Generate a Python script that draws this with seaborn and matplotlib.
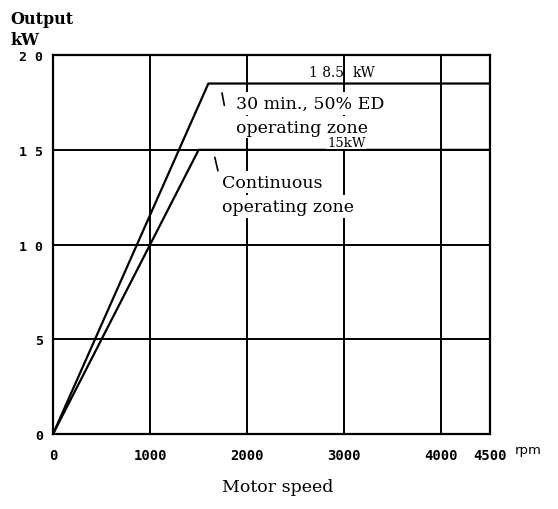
import matplotlib
matplotlib.use("Agg")
import matplotlib.pyplot as plt
import seaborn as sns
import pandas as pd

# Data
speed_30min = [0, 1600, 4500]
output_30min = [0, 18.5, 18.5]
speed_cont = [0, 1500, 4500]
output_cont = [0, 15, 15]
x_ticks = [0, 1000, 2000, 3000, 4000, 4500]
x_tick_labels = ["0", "1000", "2000", "3000", "4000", "4500"]
y_ticks = [0, 5, 10, 15, 20]
y_tick_labels = ["0", "5", "1 0", "1 5", "2 0"]

df = pd.concat([
    pd.DataFrame({"speed": speed_30min, "output": output_30min, "zone": "30min"}),
    pd.DataFrame({"speed": speed_cont, "output": output_cont, "zone": "cont"}),
])

sns.set_style("white")
plt.rcParams["font.family"] = ["DejaVu Serif", "Liberation Serif"]
plt.rcParams["text.color"] = "black"
plt.rcParams["xtick.color"] = "black"
plt.rcParams["ytick.color"] = "black"

fig = plt.figure(figsize=(5.58, 5.10), dpi=100)
ax = fig.add_axes([0.095, 0.147, 0.783, 0.743])

ax.set_xlim(0, 4500)
ax.set_ylim(0, 20)
ax.set_xticks(x_ticks)
ax.set_xticklabels(x_tick_labels, fontsize=10, fontweight="bold", family="DejaVu Sans Mono")
ax.set_yticks(y_ticks)
ax.set_yticklabels(y_tick_labels, fontsize=9.5, fontweight="bold", family="DejaVu Sans Mono")
ax.tick_params(axis="x", length=0, pad=10, labelcolor="black")
ax.tick_params(axis="y", length=0, pad=7, labelcolor="black")
ax.grid(True, color="black", linewidth=1.4)
ax.set_axisbelow(True)
for s in ax.spines.values():
    s.set_color("black")
    s.set_linewidth(1.6)

sns.lineplot(data=df, x="speed", y="output", units="zone", estimator=None,
             color="black", linewidth=1.6, ax=ax, sort=False, legend=False)
ax.set_xlabel("")
ax.set_ylabel("")

box = dict(facecolor="white", edgecolor="none", pad=2.0)
ax.text(1880, 17.45, "30 min., 50% ED", fontsize=12.5, va="center", ha="left", bbox=box, zorder=5)
ax.text(1885, 16.2, "operating zone", fontsize=12.5, va="center", ha="left", bbox=box, zorder=5)
ax.text(3220, 15.4, "15kW", fontsize=9.5, va="center", ha="right", zorder=5,
        bbox=dict(facecolor="white", edgecolor="none", pad=0.5))
ax.text(1745, 13.3, "Continuous", fontsize=12.5, va="center", ha="left", bbox=box, zorder=5)
ax.text(1745, 12.0, "operating zone", fontsize=12.5, va="center", ha="left", bbox=box, zorder=5)
ax.text(3000, 19.1, "1 8.5", fontsize=10, va="center", ha="right", zorder=5)
ax.text(3085, 19.1, "kW", fontsize=10, va="center", ha="left", zorder=5)

ax.annotate("", xy=(1735, 18.15), xytext=(1770, 17.2),
            arrowprops=dict(arrowstyle="-", color="black", lw=1.2))
ax.annotate("", xy=(1660, 14.75), xytext=(1705, 13.75),
            arrowprops=dict(arrowstyle="-", color="black", lw=1.2))

fig.text(0.018, 0.978, "Output", fontsize=11.5, fontweight="bold", va="top", ha="left")
fig.text(0.018, 0.938, "kW", fontsize=11.5, fontweight="bold", va="top", ha="left")
fig.text(0.922, 0.117, "rpm", fontsize=9.5, family="DejaVu Sans", va="center", ha="left")
fig.text(0.498, 0.045, "Motor speed", fontsize=12.5, va="center", ha="center")

fig.savefig("out.png", dpi=100, facecolor="white")
